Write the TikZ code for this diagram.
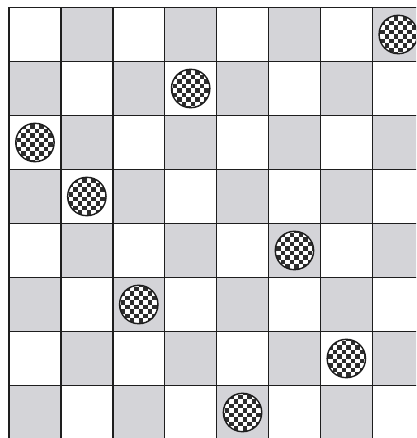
\documentclass[tikz,border=0pt]{standalone}
\definecolor{cellgray}{RGB}{212,212,216}
\definecolor{linecol}{RGB}{30,30,30}
\definecolor{checkcol}{RGB}{45,45,45}
\tikzset{
  gridline/.style={draw=linecol, line width=1.5pt},
  queenrim/.style={draw=linecol, line width=1.4pt},
}
\newcommand\cx{51.9}
\newcommand\cy{54}
\newcommand\ox{9}
\newcommand\oy{7.5}
\newcommand\placequeen[3]{% name, col, row
  \begin{scope}[shift={(\ox+\cx*#2+\cx/2, \oy+\cy*#3+\cy/2)}]
    \begin{scope}
      \clip (0,0) circle (19.2);
      \fill[white] (-21,-21) rectangle (21,21);
      \foreach \i in {0,...,9}{
        \foreach \j in {0,...,9}{
          \ifodd\numexpr\i+\j\relax
            \fill[checkcol] (-22.5+\i*4.5,-22.5+\j*4.5) rectangle ++(4.5,4.5);
          \fi
        }
      }
    \end{scope}
    \node[circle, queenrim, minimum size=38.4pt, inner sep=0pt] (#1) at (0,0) {};
  \end{scope}}
\begin{document}
\begin{tikzpicture}[x=1pt,y=-1pt]
\useasboundingbox (0,0) rectangle (416,438);
\clip (0,0) rectangle (416,438);
\fill[white] (0,0) rectangle (416,438);
% shaded cells
\foreach \r in {0,...,7}{
  \foreach \c in {0,...,7}{
    \ifodd\numexpr\r+\c\relax
      \fill[cellgray] (\ox+\cx*\c,\oy+\cy*\r) rectangle ++(\cx,\cy);
    \fi
  }
}
% grid lines
\foreach \k in {0,...,8}{
  \draw[gridline] (\ox+\cx*\k,\oy) -- (\ox+\cx*\k,\oy+\cy*8);
  \draw[gridline] (\ox,\oy+\cy*\k) -- (\ox+\cx*8,\oy+\cy*\k);
}
% queens
\placequeen{q0}{7}{0}
\placequeen{q1}{3}{1}
\placequeen{q2}{0}{2}
\placequeen{q3}{1}{3}
\placequeen{q4}{5}{4}
\placequeen{q5}{2}{5}
\placequeen{q6}{6}{6}
\placequeen{q7}{4}{7}
\end{tikzpicture}
\end{document}
